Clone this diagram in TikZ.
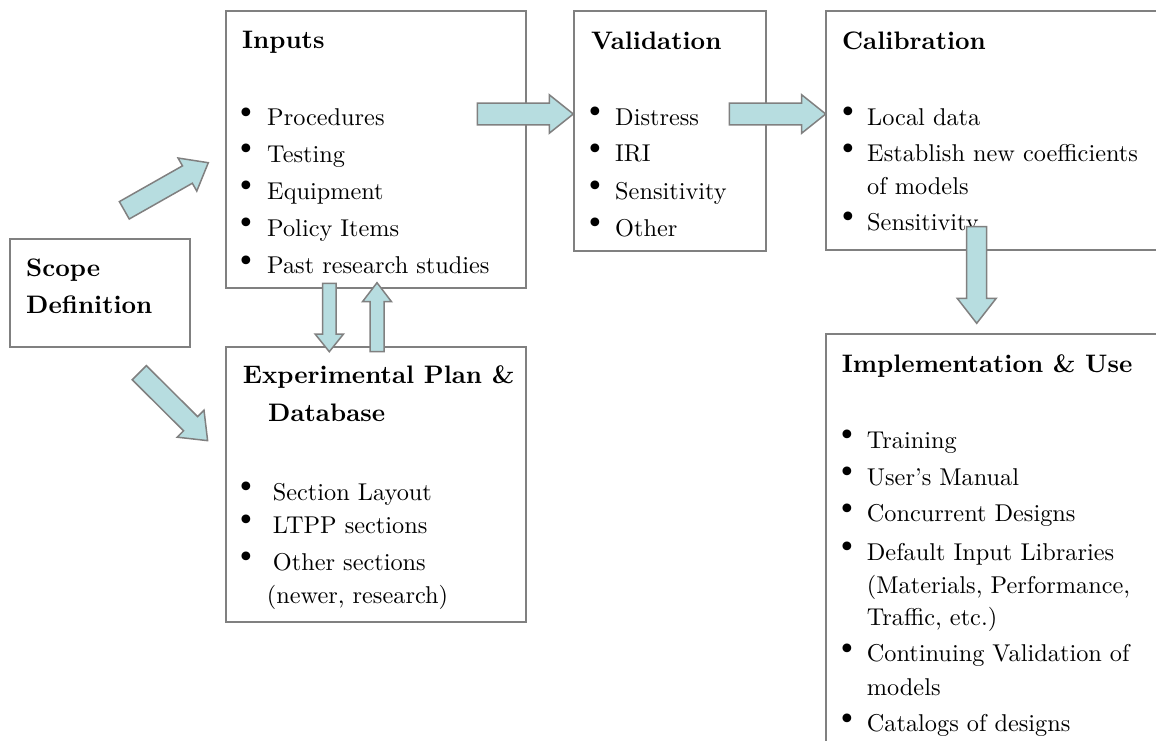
\documentclass[tikz,border=0pt]{standalone}
\usepackage{fontspec}
\setmainfont{lmroman10}[Extension=.otf, UprightFont=*-regular, BoldFont=*-bold, ItalicFont=*-italic]
\newfontfamily\bulfam{DejaVu Sans}
\usetikzlibrary{calc}
\definecolor{boxgray}{RGB}{128,128,128}
\definecolor{arrfill}{RGB}{183,221,224}
\definecolor{arrline}{RGB}{128,128,128}
\newcommand\bodyfnt{\fontsize{24.3}{29}\selectfont}
\newcommand\bulfnt{\bulfam\fontsize{30}{31}\selectfont}
\newcommand\ttlfnt{\fontsize{25.3}{30}\selectfont\bfseries}
\tikzset{
  box/.style={draw=boxgray, line width=2pt, rectangle, inner sep=0pt, outer sep=0pt, anchor=north west},
  ttl/.style={anchor=base west, inner sep=0pt, font=\ttlfnt},
  itm/.style={anchor=base west, inner sep=0pt, font=\bodyfnt},
  bul/.style={anchor=base, inner sep=0pt, font=\bulfnt, yshift=2.5pt},
  barrow/.style={draw=arrline, fill=arrfill, line width=1.5pt, line join=miter}
}
% block arrow from coordinate #1 to coordinate #2
% #3 shaft half width, #4 head half width, #5 head length
\newcommand\blockarrow[5]{%
  \path let \p1=($(#2)-(#1)$) in \pgfextra{%
    \pgfmathsetmacro\Bang{atan2(\y1,\x1)}%
    \pgfmathsetmacro\Blen{veclen(\x1,\y1)}%
    \global\let\BAng\Bang\global\let\BLen\Blen};
  \begin{scope}[shift={(#1)}, rotate=\BAng]
    \draw[barrow] (0pt,#3pt) -- ({\BLen pt-#5pt},#3pt) -- ({\BLen pt-#5pt},#4pt)
      -- (\BLen pt,0pt) -- ({\BLen pt-#5pt},-#4pt) -- ({\BLen pt-#5pt},-#3pt)
      -- (0pt,-#3pt) -- cycle;
  \end{scope}}
% bulleted item: name, bullet x, text x, baseline, text
\newcommand\bitem[5]{%
  \node[bul] (#1-b) at (#2,#4) {\smash{•}};
  \node[itm] (#1) at (#3,#4) {#5};}
\begin{document}
\begin{tikzpicture}[x=1pt, y=-1pt]
\useasboundingbox (0,0) rectangle (1156,740);
\fill[white] (0,0) rectangle (1156,740);
\clip (0,0) rectangle (1156,740);

% boxes
\node[box, minimum width=180, minimum height=108] (scope) at (10,239) {};
\node[box, minimum width=300, minimum height=277] (inputs) at (226,11) {};
\node[box, minimum width=192, minimum height=240] (valid) at (574,11) {};
\node[box, minimum width=340, minimum height=239] (calib) at (826,11) {};
\node[box, minimum width=300, minimum height=275] (exper) at (226,347) {};
\node[box, minimum width=340, minimum height=420] (impl) at (826,334) {};

% Scope
\node[ttl] (scope-t1) at (26,276.7) {Scope};
\node[ttl] (scope-t2) at (26,313.3) {Definition};

% Inputs
\node[ttl] (inputs-t) at (242,48) {Inputs};
\bitem{in1}{246.7}{267}{125.7}{Procedures}
\bitem{in2}{246.7}{267}{162.3}{Testing}
\bitem{in3}{246.7}{267}{199}{Equipment}
\bitem{in4}{246.7}{267}{236}{Policy Items}
\bitem{in5}{246.7}{267}{273.5}{Past research studies}

% Validation
\node[ttl] (valid-t) at (591,49.3) {Validation};
\bitem{va1}{595}{615}{125}{Distress}
\bitem{va2}{595}{615}{161.7}{IRI}
\bitem{va3}{595}{615}{199}{Sensitivity}
\bitem{va4}{595}{615}{236}{Other}

% Calibration
\node[ttl] (calib-t) at (842,49) {Calibration};
\bitem{ca1}{848}{867}{125}{Local data}
\bitem{ca2}{848}{867}{161.7}{Establish new coefficients}
\node[itm] (ca2b) at (867,194.3) {of models};
\bitem{ca3}{848}{867}{230}{Sensitivity}

% Experimental plan
\node[ttl] (exper-t1) at (242.7,383.3) {Experimental Plan \&};
\node[ttl] (exper-t2) at (268,421.7) {Database};
\bitem{ex1}{246.7}{272.7}{500}{Section Layout}
\bitem{ex2}{246.7}{272.7}{533.3}{LTPP sections}
\bitem{ex3}{246.7}{272.7}{570}{Other sections}
\node[itm] (ex3b) at (266.7,603.3) {(newer, research)};

% Implementation
\node[ttl] (impl-t) at (841.7,372.7) {Implementation \& Use};
\bitem{im1}{847.7}{866.7}{448.3}{Training}
\bitem{im2}{847.7}{866.7}{485}{User’s Manual}
\bitem{im3}{847.7}{866.7}{521.7}{Concurrent Designs}
\bitem{im4}{847.7}{866.7}{560}{Default Input Libraries}
\node[itm] (im4b) at (866.7,593.3) {(Materials, Performance,};
\node[itm] (im4c) at (866.7,625) {Traffic, etc.)};
\bitem{im5}{847.7}{866.7}{661.7}{Continuing Validation of}
\node[itm] (im5b) at (866.7,695) {models};
\bitem{im6}{847.7}{866.7}{731.7}{Catalogs of designs}

% arrow end points
\coordinate (a1s) at ($(inputs.north east)+(-48.7,103)$);
\coordinate (a1e) at ($(valid.north west)+(-0.7,103)$);
\coordinate (a2s) at ($(valid.north east)+(-36.7,103)$);
\coordinate (a2e) at ($(calib.north west)+(-0.3,103)$);
\coordinate (a3s) at ($(calib.south west)+(150.7,-23.3)$);
\coordinate (a3e) at ($(impl.north west)+(150.7,-10.7)$);
\coordinate (a4s) at ($(inputs.south west)+(103.3,-4.7)$);
\coordinate (a4e) at ($(exper.north west)+(103.3,4.7)$);
\coordinate (a5s) at ($(exper.north west)+(151,4.7)$);
\coordinate (a5e) at ($(inputs.south west)+(151,-5.3)$);
\coordinate (a6s) at ($(scope.north east)+(-65.7,-28.7)$);
\coordinate (a6e) at ($(inputs.north west)+(-17.7,151.7)$);
\coordinate (a7s) at ($(scope.south east)+(-50.7,25.7)$);
\coordinate (a7e) at ($(exper.north west)+(-18.3,93.7)$);

% block arrows
\blockarrow{a1s}{a1e}{10.8}{19.2}{24}
\blockarrow{a2s}{a2e}{10.8}{19.2}{24}
\blockarrow{a3s}{a3e}{10}{19.5}{25}
\blockarrow{a4s}{a4e}{6.7}{14.2}{17.7}
\blockarrow{a5s}{a5e}{7}{14.5}{19}
\blockarrow{a6s}{a6e}{10}{19}{24}
\blockarrow{a7s}{a7e}{10}{19}{24}
\end{tikzpicture}
\end{document}
